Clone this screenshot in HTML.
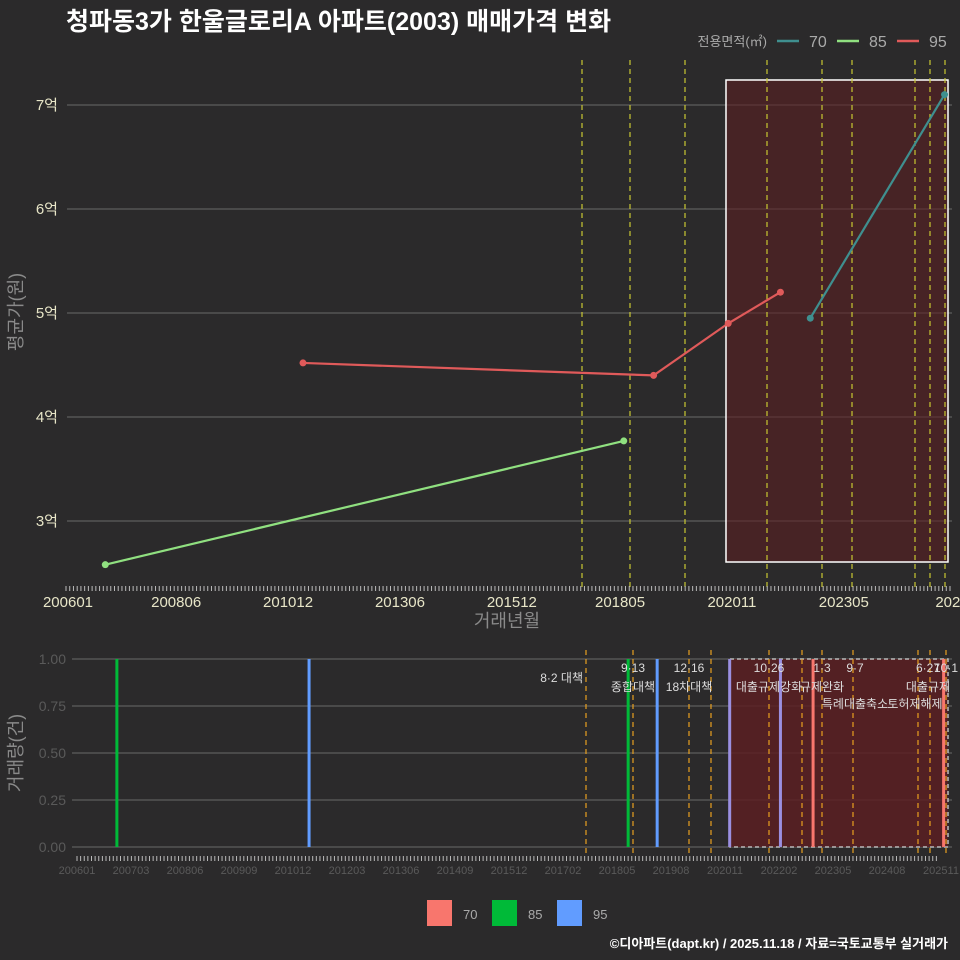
<!DOCTYPE html>
<html><head><meta charset="utf-8">
<style>
body{margin:0;background:#2b2a2b;}
svg{display:block;font-family:"Liberation Sans","Noto Sans CJK KR",sans-serif;}
</style></head>
<body>
<svg id="c" width="960" height="960" viewBox="0 0 960 960">
<rect width="960" height="960" fill="#2b2a2b"/>
<text x="66" y="30" font-size="25" font-weight="bold" fill="#ffffff">청파동3가 한울글로리A 아파트(2003) 매매가격 변화</text>
<g id="top"></g>
<g id="bot"></g>
<text x="948" y="948" font-size="13" font-weight="bold" fill="#ffffff" text-anchor="end">©디아파트(dapt.kr) / 2025.11.18 / 자료=국토교통부 실거래가</text>
</svg>
<script>
// ---- data ----
const seriesNames = ['70','85','95'];
const lineColors = ['#3f8f8f','#90e080','#e05a5a'];
const barColors = ['#F8766D','#00BA38','#619CFF'];
const s70Months = ['202208','202508'];
const s70Values = [4.95, 7.10];
const s85Months = ['200611','201806'];
const s85Values = [2.58, 3.77];
const s95Months = ['201104','201902','202010','202112'];
const s95Values = [4.52, 4.40, 4.90, 5.20];
const yTicks = [3,4,5,6,7];
const topXLabels = ['200601','200806','201012','201306','201512','201805','202011','202305','202510'];
const botXLabels = ['200601','200703','200806','200909','201012','201203','201306','201409','201512','201702','201805','201908','202011','202202','202305','202408','202511'];
const volMonths = ['200612','201105','201809','201905','202101','202203','202212','202512'];
const volSeries = [1,2,1,2,2,2,0,0];
const volValues = [1,1,1,1,1,1,1,1];
const volTicks = [0,0.25,0.5,0.75,1];
const policyLabels = [['8·2 대책',''],['9·13','종합대책'],['12·16','18차대책'],['',''],['10·26','대출규제강화'],['',''],['1·3','규제완화'],['9·7','특례대출축소'],['','토허제해제'],['6·27','대출규제'],['10·1','']];
// ---- scales ----
const NS='http://www.w3.org/2000/svg';
function mi(s){return (parseInt(s.slice(0,4))-2006)*12+parseInt(s.slice(4,6))-1;}
const tx=m=>68+mi(m)*3.73;
const ty=v=>521-(v-3)*104;
const bx=m=>77+mi(m)*3.626;
const by=v=>847-v*188;
function mk(p,tag,at,name,txt){const e=document.createElementNS(NS,tag);for(const k in at)e.setAttribute(k,at[k]);


if(txt!==undefined)e.textContent=txt;p.appendChild(e);return e;}
const T=document.getElementById('top'),B=document.getElementById('bot');
yTicks.forEach(v=>{mk(T,'line',{x1:67,x2:952,y1:ty(v),y2:ty(v),stroke:'#6a6a6a','stroke-width':1},'y-gridline');
mk(T,'text',{x:58,y:ty(v)+5,'font-size':15,fill:'#e8e6c8','text-anchor':'end'},'y-tick-label',v+'억');});
mk(T,'rect',{x:726,y:80,width:222,height:482,fill:'#5a1f22','fill-opacity':0.6,stroke:'#ffffff','stroke-width':1.5},'highlight-region');
[582,630,685,767,822,852,915,930,945].forEach(x=>mk(T,'line',{x1:x,x2:x,y1:60,y2:588,stroke:'#c8c832','stroke-width':1.2,'stroke-dasharray':'5,4'},'policy-line'));
for(let i=0;i<238;i++){mk(T,'line',{x1:66+i*3.73,x2:66+i*3.73,y1:586,y2:591,stroke:'#bbbbbb','stroke-width':1},'x-tick');}
topXLabels.forEach((l,i)=>mk(T,'text',{x:tx(l),y:607,'font-size':15,fill:'#e8e6c8','text-anchor':'middle'},'x-tick-label',i==topXLabels.length-1?'2025':l));
mk(T,'text',{x:507,y:627,'font-size':18,fill:'#8a8a8a','text-anchor':'middle'},'x-axis-title','거래년월');
mk(T,'text',{x:22,y:312,'font-size':18,fill:'#8a8a8a','text-anchor':'middle',transform:'rotate(-90 22 312)'},'y-axis-title','평균가(원)');
[[s70Months,s70Values],[s85Months,s85Values],[s95Months,s95Values]].forEach((s,k)=>{
 const pts=s[0].map((m,i)=>tx(m)+','+ty(s[1][i])).join(' ');
 mk(T,'polyline',{points:pts,fill:'none',stroke:lineColors[k],'stroke-width':2.2},'line-'+seriesNames[k]);
 s[0].forEach((m,i)=>mk(T,'circle',{cx:tx(m),cy:ty(s[1][i]),r:3.5,fill:lineColors[k]},'point-'+seriesNames[k]));});
mk(T,'text',{x:767,y:46,'font-size':13,fill:'#aaaaaa','text-anchor':'end'},'legend-title','전용면적(㎡)');
seriesNames.forEach((n,k)=>{const x=777+k*60;
 mk(T,'line',{x1:x,x2:x+22,y1:41,y2:41,stroke:lineColors[k],'stroke-width':2.5},'legend-key-'+n);
 mk(T,'text',{x:x+32,y:47,'font-size':16,fill:'#aaaaaa'},'legend-label-'+n,n);});
// bottom
volTicks.forEach(v=>{mk(B,'line',{x1:72,x2:952,y1:by(v),y2:by(v),stroke:'#6a6a6a','stroke-width':1},'vol-gridline');
 mk(B,'text',{x:66,y:by(v)+5,'font-size':14,fill:'#5a5a5a','text-anchor':'end'},'vol-y-tick-label',v.toFixed(2));});
mk(B,'rect',{x:730,y:659,width:218,height:188,fill:'#5a1f22','fill-opacity':0.85,stroke:'#bbbbbb','stroke-width':1.5,'stroke-dasharray':'4,3'},'vol-highlight-region');
const px=[586,633,689,711,769,802,822,853,918,930,946];
px.forEach(x=>mk(B,'line',{x1:x,x2:x,y1:650,y2:853,stroke:'#e8a020','stroke-width':1.2,'stroke-dasharray':'5,4'},'vol-policy-line'));
volMonths.forEach((m,i)=>{const c=volSeries[i]==2&&mi(m)>=180?'#9b8fe0':barColors[volSeries[i]];
 mk(B,'rect',{x:bx(m)-1.5,y:by(volValues[i]),width:3,height:by(0)-by(volValues[i]),fill:c},'vol-bar');});
const nameX=[586,633,689,711,769,802,822,855,915,928,946];
policyLabels.forEach((p,i)=>{const x=nameX[i];
 if(p[0])mk(B,'text',{x:i==0?583:x,y:i==0?682:672,'font-size':12,fill:'#dddddd','text-anchor':i==0?'end':'middle'},'policy-date',p[0]);
 if(p[1])mk(B,'text',{x:x,y:(i==7||i==8)?708:691,'font-size':12,fill:'#dddddd','text-anchor':'middle'},'policy-name',p[1]);});
for(let i=0;i<238;i++){mk(B,'line',{x1:77+i*3.626,x2:77+i*3.626,y1:856,y2:861,stroke:'#bbbbbb','stroke-width':1},'vol-x-tick');}
botXLabels.forEach((l,i)=>mk(B,'text',{x:77+i*54,y:874,'font-size':11,fill:'#5a5a5a','text-anchor':'middle'},'vol-x-tick-label',l));
mk(B,'text',{x:22,y:753,'font-size':18,fill:'#8a8a8a','text-anchor':'middle',transform:'rotate(-90 22 753)'},'vol-y-axis-title','거래량(건)');
seriesNames.forEach((n,k)=>{const x=427+k*65;
 mk(B,'rect',{x:x,y:900,width:25,height:26,fill:barColors[k]},'vol-legend-key-'+n);
 mk(B,'text',{x:x+36,y:919,'font-size':13,fill:'#aaaaaa'},'vol-legend-label-'+n,n);});
</script>
</body></html>
